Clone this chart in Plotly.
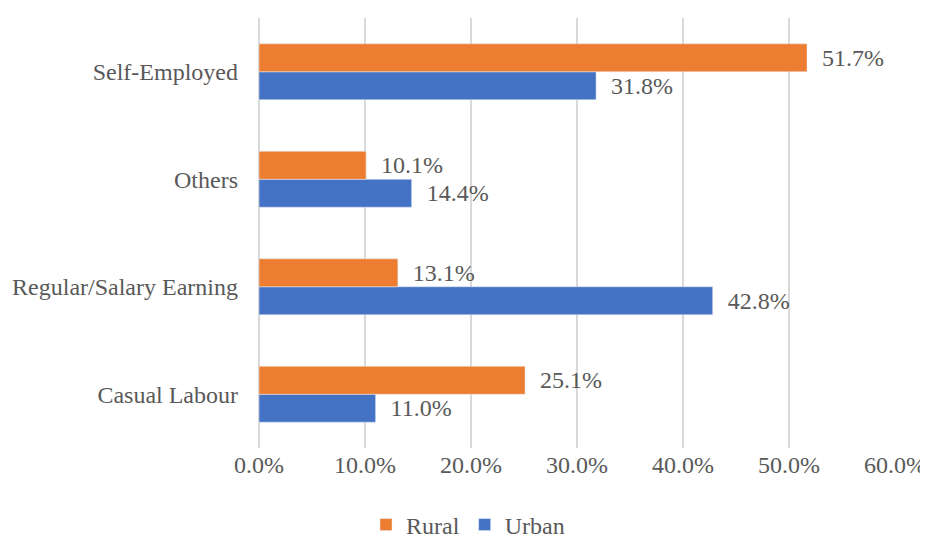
import plotly.graph_objects as go

categories = ["Casual Labour", "Regular/Salary Earning", "Others", "Self-Employed"]
rural = [25.1, 13.1, 10.1, 51.7]
urban = [11.0, 42.8, 14.4, 31.8]

font_family = "Liberation Serif, Times New Roman, serif"
grey = "#595959"
fs = 24
nb = "\u00a0\u00a0"

fig = go.Figure()
fig.add_trace(go.Bar(y=categories, x=urban, name="Urban", orientation="h",
                     marker_color="#4472C4",
                     text=[nb + f"{v:.1f}%" for v in urban],
                     textposition="outside", cliponaxis=False,
                     textfont=dict(size=fs, color=grey, family=font_family)))
fig.add_trace(go.Bar(y=categories, x=rural, name="Rural", orientation="h",
                     marker_color="#ED7D31",
                     text=[nb + f"{v:.1f}%" for v in rural],
                     textposition="outside", cliponaxis=False,
                     textfont=dict(size=fs, color=grey, family=font_family)))

# page body has an 8px margin, so the figure is a bit smaller than the window
fig.update_layout(
    width=920, height=530,
    barmode="group", bargap=0.48, bargroupgap=0,
    plot_bgcolor="white", paper_bgcolor="white",
    margin=dict(l=251, r=33, t=10, b=90, autoexpand=False),
    font=dict(family=font_family, size=fs, color=grey),
    xaxis=dict(range=[0, 60], dtick=10, ticksuffix="%", tickformat=".1f",
               showgrid=True, gridcolor="#d9d9d9", gridwidth=2,
               zeroline=True, zerolinecolor="#d9d9d9", zerolinewidth=2,
               showline=False, ticks="", automargin=False,
               tickfont=dict(size=fs, color=grey)),
    yaxis=dict(categoryorder="array", categoryarray=categories,
               showgrid=False, showline=False, ticks="", automargin=False,
               ticklabelstandoff=20,
               tickfont=dict(size=fs, color=grey)),
    legend=dict(orientation="h", traceorder="reversed",
                xref="container", yref="paper",
                x=0.5, xanchor="center", y=-0.179, yanchor="middle",
                font=dict(size=fs, color=grey)),
    showlegend=True,
)

fig.write_html("out.html")
